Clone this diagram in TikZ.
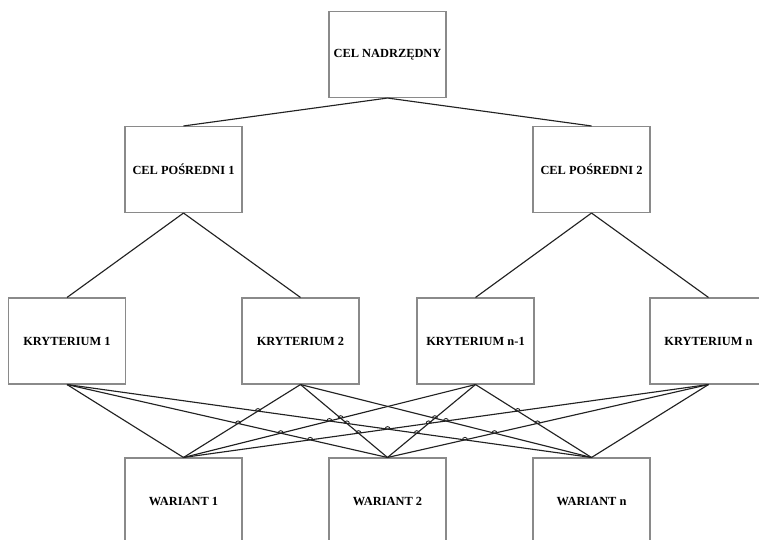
\documentclass[tikz,border=0pt]{standalone}
\usepackage{fontspec}
\setmainfont{Liberation Serif}
\usetikzlibrary{intersections}
\definecolor{boxgray}{HTML}{8A8A8A}
\definecolor{linegray}{HTML}{222222}
% small arc where one link jumps over another
\newcommand\linejump[2]{%
  \path[name intersections={of=#1 and #2, by=hp}];
  \draw[hop] (hp) ++(-1.9pt,0) arc[start angle=180, end angle=0, radius=1.9pt];}
\begin{document}
\begin{tikzpicture}[x=0.75pt,y=-0.75pt,
  box/.style={draw=boxgray, line width=0.8pt, fill=white,
    minimum width=87.75pt, minimum height=64.5pt, inner sep=0pt,
    font=\fontsize{9.3}{11}\selectfont\bfseries, text=black},
  link/.style={draw=linegray, line width=0.85pt},
  hop/.style={draw=linegray, line width=0.65pt}]
\useasboundingbox (0,0) rectangle (759,539);
\clip (0,0) rectangle (759,539);
\fill[white] (0,0) rectangle (759,539);

% goals
\node[box] (top) at (387.5,54.5) {CEL NADRZĘDNY};
\node[box] (cp1) at (183.5,169.5) {CEL POŚREDNI 1};
\node[box] (cp2) at (591.5,169.5) {CEL POŚREDNI 2};

% criteria
\node[box] (k1) at (67,341) {KRYTERIUM 1};
\node[box] (k2) at (300.5,341) {KRYTERIUM 2};
\node[box] (kn1) at (475.5,341) {KRYTERIUM n-1};
\node[box] (kn) at (708.5,341) {KRYTERIUM n};

% variants
\node[box] (w1) at (183.5,501) {WARIANT 1};
\node[box] (w2) at (387.5,501) {WARIANT 2};
\node[box] (wn) at (591.5,501) {WARIANT n};

% hierarchy links
\draw[link] (top.south) -- (cp1.north);
\draw[link] (top.south) -- (cp2.north);
\draw[link] (cp1.south) -- (k1.north);
\draw[link] (cp1.south) -- (k2.north);
\draw[link] (cp2.south) -- (kn1.north);
\draw[link] (cp2.south) -- (kn.north);

% every criterion linked to every variant
\draw[link, name path=A1] (k1.south) -- (w1.north);
\draw[link, name path=A2] (k1.south) -- (w2.north);
\draw[link, name path=A3] (k1.south) -- (wn.north);
\draw[link, name path=B1] (k2.south) -- (w1.north);
\draw[link, name path=B2] (k2.south) -- (w2.north);
\draw[link, name path=B3] (k2.south) -- (wn.north);
\draw[link, name path=C1] (kn1.south) -- (w1.north);
\draw[link, name path=C2] (kn1.south) -- (w2.north);
\draw[link, name path=C3] (kn1.south) -- (wn.north);
\draw[link, name path=D1] (kn.south) -- (w1.north);
\draw[link, name path=D2] (kn.south) -- (w2.north);
\draw[link, name path=D3] (kn.south) -- (wn.north);

% line jumps at crossings
\linejump{A3}{B1}
\linejump{A2}{B1}
\linejump{A2}{C1}
\linejump{A2}{D1}
\linejump{A3}{C1}
\linejump{A3}{D1}
\linejump{B2}{A3}
\linejump{B2}{C1}
\linejump{B2}{D1}
\linejump{D1}{B3}
\linejump{D1}{C2}
\linejump{D1}{C3}
\linejump{D2}{A3}
\linejump{D2}{B3}
\linejump{D2}{C3}
\linejump{C2}{A3}
\linejump{C2}{B3}
\end{tikzpicture}
\end{document}
